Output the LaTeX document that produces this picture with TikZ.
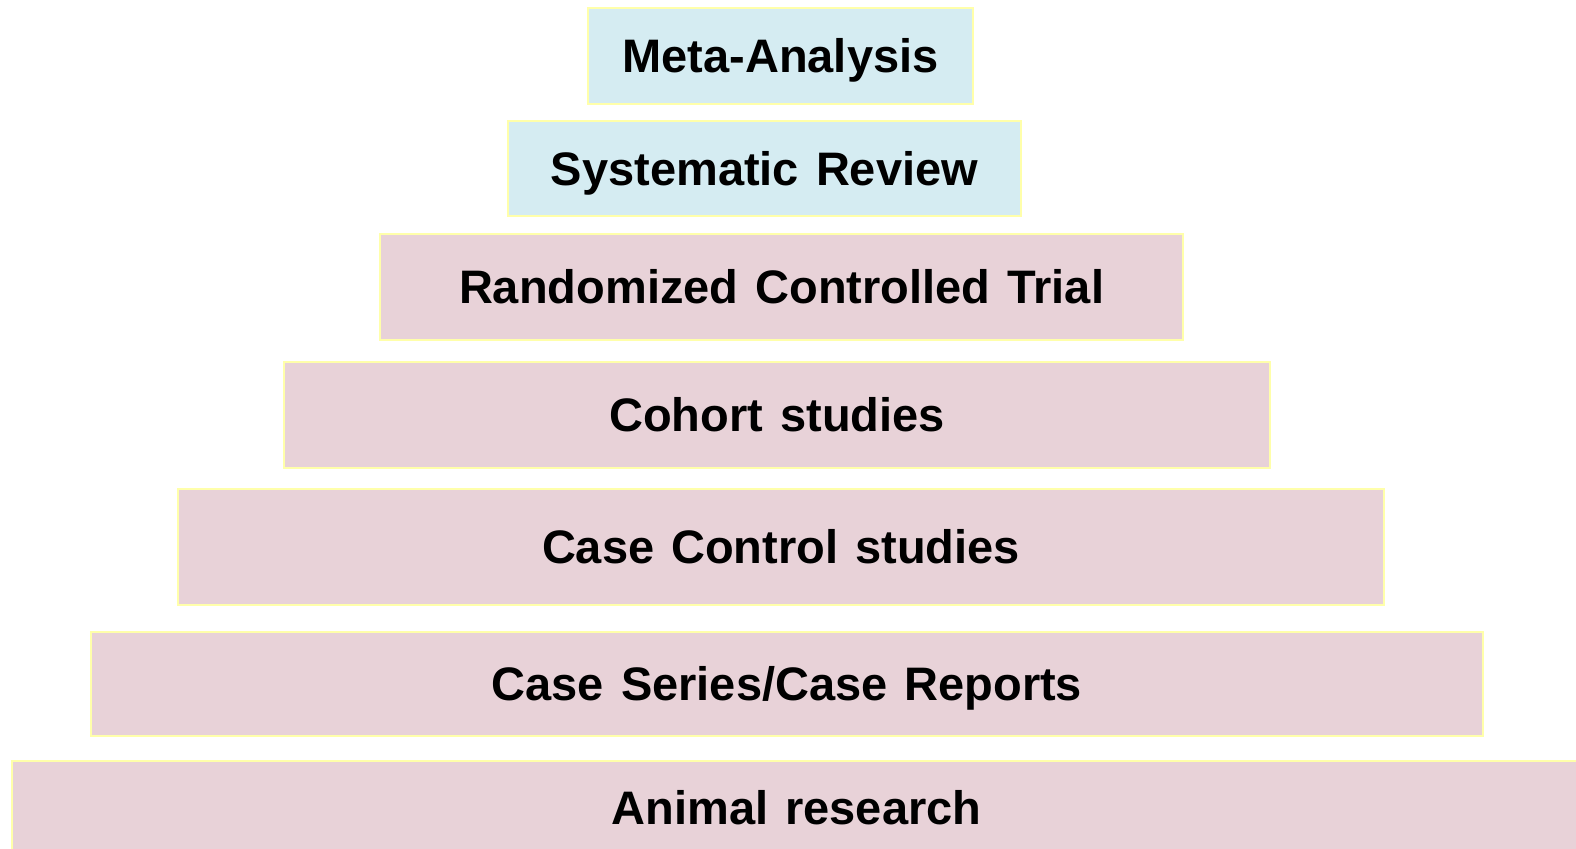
\documentclass[tikz,border=0pt]{standalone}
\usepackage{fontspec}
\setmainfont{Liberation Sans}[WordSpace=1.3]
\definecolor{bluefill}{RGB}{213,236,242}
\definecolor{pinkfill}{RGB}{232,210,216}
\definecolor{edgeyel}{RGB}{255,255,170}
\tikzset{
  tier/.style={draw=edgeyel, line width=1pt, rectangle, inner sep=0pt,
    text height=16.8pt, text depth=0pt,
    font=\fontsize{23.5}{28}\selectfont\bfseries, text=black},
  bluetier/.style={tier, fill=bluefill},
  pinktier/.style={tier, fill=pinkfill},
}
\begin{document}
\begin{tikzpicture}[x=0.5pt,y=-0.5pt]
\useasboundingbox (0,0) rectangle (1576,849);
\clip (0,0) rectangle (1576,849);
\fill[white] (0,0) rectangle (1576,849);
\node[bluetier, minimum width=192.5pt, minimum height=48pt] (meta) at (780.5,56) {Meta-Analysis};
\node[bluetier, minimum width=256.5pt, minimum height=47.5pt] (sr) at (764.5,168.5) {Systematic Review};
\node[pinktier, minimum width=401.5pt, minimum height=53pt] (rct) at (781.5,287) {Randomized Controlled Trial};
\node[pinktier, minimum width=493pt, minimum height=53pt] (cohort) at (777,415) {Cohort studies};
\node[pinktier, minimum width=603pt, minimum height=58pt] (cc) at (781,547) {Case Control studies};
\node[pinktier, minimum width=696pt, minimum height=52pt] (cs) at (787,684) {Case Series/Case Reports};
\node[pinktier, minimum width=784.5pt, minimum height=47pt] (animal) at (796.5,808) {Animal research};
\end{tikzpicture}
\end{document}
